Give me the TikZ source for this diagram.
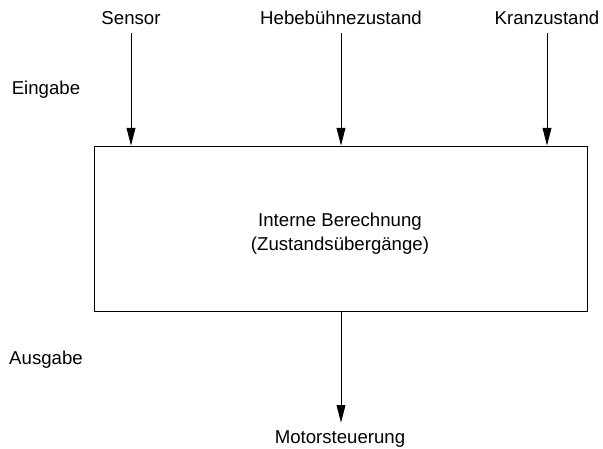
\documentclass[tikz,border=0pt]{standalone}
\usepackage{fontspec}
\setsansfont{Liberation Sans}
\usetikzlibrary{arrows.meta, positioning}

\begin{document}
\begin{tikzpicture}[x=0.02cm, y=-0.02cm, font=\sffamily\fontsize{10.6}{13.6}\selectfont]
        % Setup the styles for the block and the arrows
        \tikzset{block style/.style={draw, line width=0.55pt,
                                     minimum width=9.88cm,
                                     minimum height=3.32cm},
                 arrow style/.style={line width=0.55pt,
                                     -{Triangle[length=10pt,width=5pt]}}}

        % Fix the margins
        \useasboundingbox (0,0) rectangle (603,449);

        % Draw the block and the labels
        \node[block style] at (341, 229) (calc) {};
        \node[align=center] at (340, 234) (calctext) {Interne Berechnung\\(Zustandsübergänge)};
        \node at (131, 18) (sensor) {Sensor};
        \node at (341, 18) (hebe) {Hebebühnezustand};
        \node at (547, 18) (kran) {Kranzustand};
        \node at (46, 90) (eingabe) {Eingabe};
        \node at (46, 360) (ausgabe) {Ausgabe};
        \node at (340, 439) (motor) {Motorsteuerung};

        % Connect them with arrows
        \draw[arrow style, shorten <=1pt] (sensor) -- (sensor |- calc.north);
        \draw[arrow style, shorten <=1pt] (hebe) -- (hebe |- calc.north);
        \draw[arrow style, shorten <=1pt] (kran) -- (kran |- calc.north);
        \draw[arrow style, shorten >=1pt] (calc.south) -- (calc.south |- motor.north);
\end{tikzpicture}
\end{document}
